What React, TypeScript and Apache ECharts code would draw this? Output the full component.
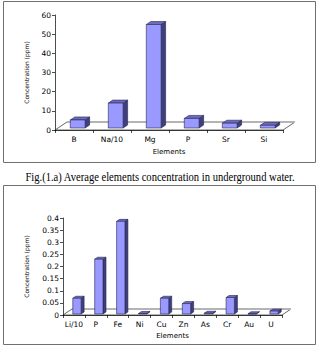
import React, { useEffect, useRef } from "react";
import * as echarts from "echarts";

// Fig. 1a — upper panel
const topCategories = ["B", "Na/10", "Mg", "P", "Sr", "Si"];
const topValues = [4.2, 13, 54, 5, 2.5, 1.4];
const topTicks = { min: 0, max: 60, interval: 10 };

// Fig. 1a — lower panel
const bottomCategories = ["Li/10", "P", "Fe", "Ni", "Cu", "Zn", "As", "Cr", "Au", "U"];
const bottomValues = [0.065, 0.226, 0.382, 0.002, 0.065, 0.043, 0.003, 0.068, 0.001, 0.012];
const bottomTicks = { min: 0, max: 0.4, interval: 0.05 };

const caption = "Fig.(1.a) Average elements concentration in underground water.";

const FONT = "DejaVu Sans";

type Depth = { dx: number; dy: number; lift: number; shift: number; ratio: number };

// 3D-looking column: front face, top face and right side face
function makeBarRenderer(d: Depth) {
  return (params: any, api: any) => {
    const x = api.value(0);
    const v = api.value(1);
    const top = api.coord([x, v]);
    const base = api.coord([x, 0]);
    const band = api.size([1, 0])[0];
    const w = band * d.ratio;
    const x0 = top[0] + d.shift - w / 2;
    const x1 = x0 + w;
    const yTop = top[1] - d.lift;
    const yBot = base[1] - d.lift;
    const stroke = { stroke: "#26264d", lineWidth: 0.6 };
    return {
      type: "group",
      children: [
        {
          type: "polygon",
          shape: { points: [[x1, yBot], [x1 + d.dx, yBot + d.dy], [x1 + d.dx, yTop + d.dy], [x1, yTop]] },
          style: { fill: "#3f3f80", ...stroke },
        },
        {
          type: "polygon",
          shape: { points: [[x0, yTop], [x1, yTop], [x1 + d.dx, yTop + d.dy], [x0 + d.dx, yTop + d.dy]] },
          style: { fill: "#6b6bc4", ...stroke },
        },
        {
          type: "rect",
          shape: { x: x0, y: yTop, width: w, height: yBot - yTop },
          style: { fill: "#9999ff", ...stroke },
        },
      ],
    };
  };
}

// floor plane of the 3D plot area
function makeFloorRenderer(dx: number, dy: number) {
  return (params: any, api: any) => {
    const cs = params.coordSys;
    const xl = cs.x;
    const xr = cs.x + cs.width;
    const yb = cs.y + cs.height;
    return {
      type: "group",
      children: [
        {
          type: "polygon",
          shape: { points: [[xl, yb], [xr, yb], [xr + dx, yb + dy], [xl + dx, yb + dy]] },
          style: { fill: "#ffffff", stroke: "#000000", lineWidth: 0.6 },
        },
        {
          type: "line",
          shape: { x1: xl + dx, y1: yb + dy, x2: xr + dx, y2: yb + dy },
          style: { stroke: "#b4b4b4", lineWidth: 2 },
        },
      ],
    };
  };
}

function xAxisFor(cats: string[], gridIndex: number, nameGap: number) {
  return {
    type: "category",
    gridIndex,
    data: cats,
    name: "Elements",
    nameLocation: "middle",
    nameGap,
    nameTextStyle: { fontFamily: FONT, fontSize: 7, color: "#000" },
    axisLine: { show: true, lineStyle: { color: "#000", width: 0.7 } },
    axisTick: { show: true, length: 3, lineStyle: { color: "#000", width: 0.7 } },
    axisLabel: { fontFamily: FONT, fontSize: 7.5, color: "#000", margin: 5, interval: 0 },
    splitLine: { show: false },
  };
}

function yAxisFor(t: { min: number; max: number; interval: number }, gridIndex: number, nameGap: number) {
  return {
    type: "value",
    gridIndex,
    min: t.min,
    max: t.max,
    interval: t.interval,
    name: "Concentration (ppm)",
    nameLocation: "middle",
    nameGap,
    nameTextStyle: { fontFamily: FONT, fontSize: 6, color: "#000" },
    axisLine: { show: true, lineStyle: { color: "#000", width: 0.7 } },
    axisTick: { show: true, length: 3, lineStyle: { color: "#000", width: 0.7 } },
    axisLabel: { fontFamily: FONT, fontSize: 7.5, color: "#000", margin: 4 },
    splitLine: { show: false },
  };
}

export default function App() {
  const ref = useRef<HTMLDivElement>(null);

  useEffect(() => {
    if (!ref.current) return;
    const chart = echarts.init(ref.current, null, { renderer: "svg" });
    chart.setOption({
      animation: false,
      backgroundColor: "#ffffff",
      grid: [
        { left: 55, top: 15, width: 228, height: 115 },
        { left: 63, top: 218, width: 219, height: 97 },
      ],
      xAxis: [xAxisFor(topCategories, 0, 18), xAxisFor(bottomCategories, 1, 17)],
      yAxis: [yAxisFor(topTicks, 0, 26), yAxisFor(bottomTicks, 1, 34)],
      graphic: [
        {
          type: "rect",
          shape: { x: 3.5, y: 1.5, width: 312, height: 161 },
          style: { fill: "none", stroke: "#707070", lineWidth: 1 },
          z: -1,
        },
        {
          type: "rect",
          shape: { x: 3.5, y: 185.5, width: 312, height: 159 },
          style: { fill: "none", stroke: "#707070", lineWidth: 1 },
          z: -1,
        },
        {
          type: "text",
          x: 160,
          y: 177,
          scaleX: 0.92,
          style: {
            text: caption,
            fontFamily: "Liberation Serif",
            fontSize: 11.5,
            fill: "#000",
            align: "center",
            verticalAlign: "middle",
          },
        },
      ],
      series: [
        {
          type: "custom",
          xAxisIndex: 0,
          yAxisIndex: 0,
          data: [[0, 0]],
          renderItem: makeFloorRenderer(12, -8),
          z: 1,
          silent: true,
        },
        {
          type: "custom",
          xAxisIndex: 0,
          yAxisIndex: 0,
          data: topValues.map((v, i) => [i, v]),
          renderItem: makeBarRenderer({ dx: 4.5, dy: -3, lift: 2, shift: 3.7, ratio: 0.39 }),
          clip: false,
          z: 2,
        },
        {
          type: "custom",
          xAxisIndex: 1,
          yAxisIndex: 1,
          data: [[0, 0]],
          renderItem: makeFloorRenderer(9, -6),
          z: 1,
          silent: true,
        },
        {
          type: "custom",
          xAxisIndex: 1,
          yAxisIndex: 1,
          data: bottomValues.map((v, i) => [i, v]),
          renderItem: makeBarRenderer({ dx: 3, dy: -2, lift: 1, shift: 3, ratio: 0.38 }),
          clip: false,
          z: 2,
        },
      ],
    });
    return () => chart.dispose();
  }, []);

  return (
    <div
      ref={ref}
      style={{ position: "absolute", left: 0, top: 0, width: 319, height: 348 }}
    />
  );
}
